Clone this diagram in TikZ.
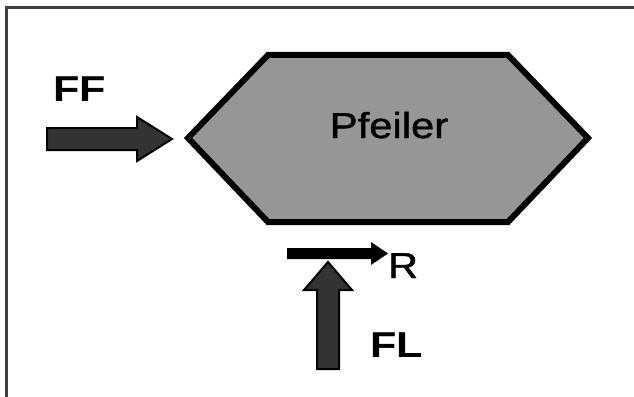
\documentclass[tikz,border=0pt]{standalone}
\usepackage{fontspec}
\setmainfont{Liberation Sans}
\newfontfamily\heavyreg[FakeBold=1.2]{Liberation Sans}
\begin{document}
\begin{tikzpicture}[x=1pt,y=-1pt,
  framestyle/.style={draw=black!75,line width=3pt},
  pierbody/.style={draw=black,fill=pierfill,line width=6pt,line join=miter},
  blockarrow/.style={draw=black,fill=arrowfill,line width=2pt,line join=miter},
  thinarrow/.style={fill=black},
  lbl/.style={inner sep=0pt,font=\fontsize{36}{40}\selectfont\heavyreg},
  boldlbl/.style={inner sep=0pt,font=\fontsize{36}{40}\selectfont\bfseries}]
\definecolor{pierfill}{HTML}{969696}
\definecolor{arrowfill}{HTML}{333333}
\useasboundingbox (0,0) rectangle (634,396);
\fill[white] (0,0) rectangle (634,396);

% frame, cut off on the right and at the bottom
\coordinate (fTL) at (6,8);
\coordinate (fTR) at (640,8);
\coordinate (fBL) at (6,402);
\draw[framestyle] (fTR) -- (fTL) -- (fBL);

% the pier
\coordinate (h1) at (268,55);
\coordinate (h2) at (508,55);
\coordinate (h3) at (588,138);
\coordinate (h4) at (508,222);
\coordinate (h5) at (268,222);
\coordinate (h6) at (188,138);
\draw[pierbody] (h1) -- (h2) -- (h3) -- (h4) -- (h5) -- (h6) -- cycle;
\node[lbl,anchor=base] (pier) at (389,138) {\scalebox{1.16}[1]{Pfeiler}};

% horizontal load FF
\coordinate (ffA) at (47,128);
\coordinate (ffB) at (137,128);
\coordinate (ffC) at (137,117);
\coordinate (ffTip) at (172,139);
\coordinate (ffD) at (137,161);
\coordinate (ffE) at (137,150);
\coordinate (ffF) at (47,150);
\draw[blockarrow] (ffA) -- (ffB) -- (ffC) -- (ffTip) -- (ffD) -- (ffE) -- (ffF) -- cycle;
\node[boldlbl,anchor=base west] (ff) at (53,101) {\scalebox{1.2}[1]{FF}};

% resultant R
\coordinate (rA) at (287,248);
\coordinate (rB) at (371,248);
\coordinate (rC) at (371,242);
\coordinate (rTip) at (388,253.5);
\coordinate (rD) at (371,265);
\coordinate (rE) at (371,259);
\coordinate (rF) at (287,259);
\fill[thinarrow] (rA) -- (rB) -- (rC) -- (rTip) -- (rD) -- (rE) -- (rF) -- cycle;
\node[lbl,anchor=base west] (r) at (388,278) {\scalebox{1.15}[1]{R}};

% vertical load FL
\coordinate (flA) at (317,369);
\coordinate (flB) at (317,290);
\coordinate (flC) at (304,290);
\coordinate (flTip) at (328,262);
\coordinate (flD) at (352,290);
\coordinate (flE) at (339,290);
\coordinate (flF) at (339,369);
\draw[blockarrow] (flA) -- (flB) -- (flC) -- (flTip) -- (flD) -- (flE) -- (flF) -- cycle;
\node[boldlbl,anchor=base west] (fl) at (370,357) {\scalebox{1.2}[1]{FL}};
\end{tikzpicture}
\end{document}
